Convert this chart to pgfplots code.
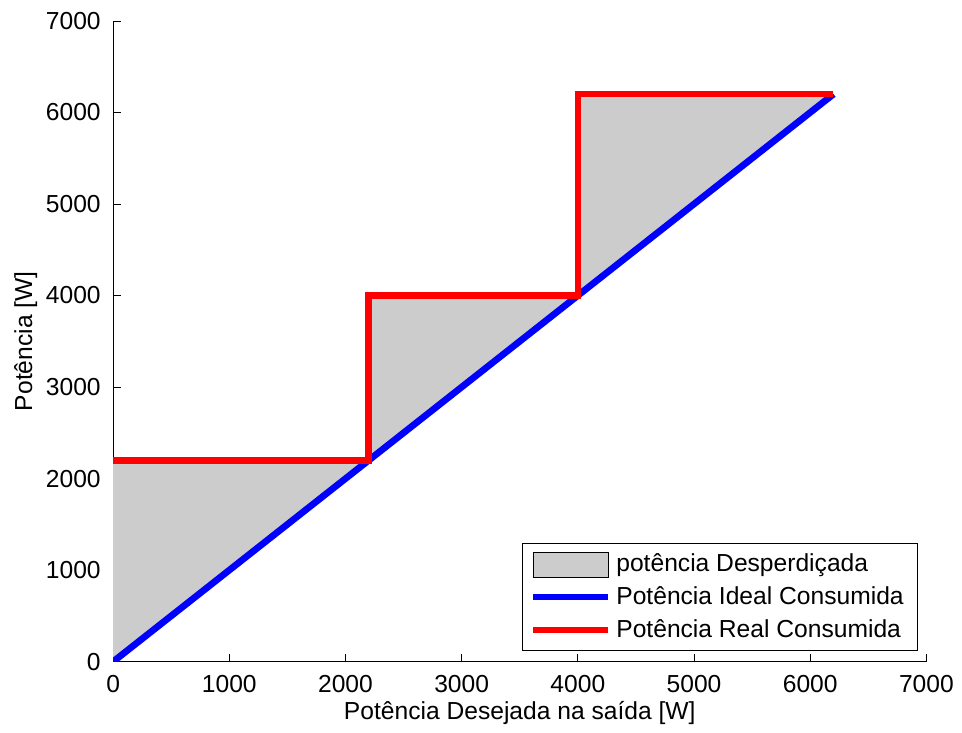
\documentclass[border={4.5pt 0pt 0pt 3pt}]{standalone}
\usepackage{fontspec}
\setmainfont{Liberation Sans}
\usepackage{pgfplots}
\pgfplotsset{compat=1.18}
\begin{document}
\fontsize{18.4}{22}\selectfont
\begin{tikzpicture}
\begin{axis}[
  scale only axis,
  width=608pt, height=479pt,
  xmin=0, xmax=7000, ymin=0, ymax=7000,
  axis lines=left,
  axis line style={-, line width=0.8pt},
  xtick={0,1000,...,7000}, ytick={0,1000,...,7000},
  tick align=inside,
  major tick length=6pt,
  tick style={black, line width=0.6pt},
  scaled ticks=false,
  /pgf/number format/assume math mode=true,
  /pgf/number format/1000 sep={},
  tick label style={font=\fontsize{18.4}{22}\selectfont},
  yticklabel style={xshift=-3pt},
  xticklabel style={yshift=-4pt},
  label style={font=\fontsize{18.4}{22}\selectfont},
  xlabel={Potência Desejada na saída [W]},
  ylabel={Potência [W]},
  xlabel style={yshift=6pt},
  ylabel style={yshift=-6pt},
  legend cell align=left,
  legend style={at={(0.989,0.017)}, anchor=south east, draw=black, line width=0.6pt,
    font=\fontsize{18.4}{22}\selectfont, row sep=4.5pt, inner xsep=6pt, inner ysep=5pt,
    nodes={inner xsep=4pt}},
]
\addplot[fill=black!20, draw=none, area legend,
  legend image code/.code={\draw[fill=black!20, draw=black, line width=0.6pt] (0pt,-10pt) rectangle (56pt,9pt);}]
  coordinates {(0,0) (0,2200) (2200,2200) (2200,4000) (4000,4000) (4000,6200) (6200,6200) (0,0)} -- cycle;
\addlegendentry{potência Desperdiçada}
\addplot[blue, line width=5pt,
  legend image code/.code={\draw[blue, line width=4.5pt] (0pt,0pt) -- (56pt,0pt);}]
  coordinates {(0,0) (6200,6200)};
\addlegendentry{Potência Ideal Consumida}
\addplot[red, line width=5pt,
  legend image code/.code={\draw[red, line width=4.5pt] (0pt,0pt) -- (56pt,0pt);}]
  coordinates {(0,2200) (2200,2200) (2200,4000) (4000,4000) (4000,6200) (6200,6200)};
\addlegendentry{Potência Real Consumida}
\end{axis}
\end{tikzpicture}
\end{document}
